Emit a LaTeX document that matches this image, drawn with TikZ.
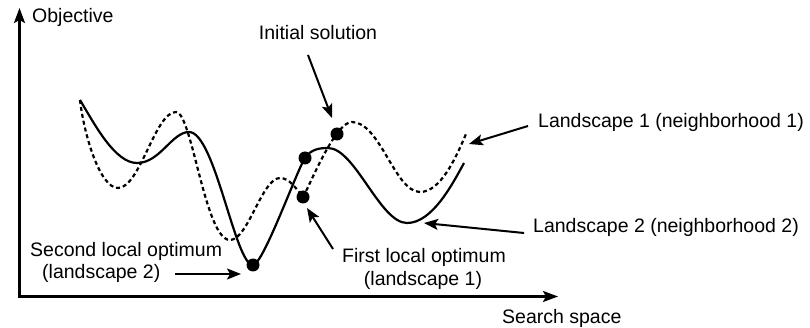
\documentclass[tikz,border=0pt]{standalone}
\usepackage{fontspec}
\setmainfont{Liberation Sans}
\usetikzlibrary{arrows.meta}

\begin{document}
\begin{tikzpicture}[x=1pt,y=-1pt,
  lbl/.style={font=\fontsize{19.5}{23}\selectfont, inner sep=0pt},
  axisline/.style={line width=2.3pt, -{Stealth[length=15pt,width=11pt,inset=3pt]}},
  pointer/.style={line width=2pt, -{Stealth[length=14pt,width=11pt,inset=3pt]}},
  solidcurve/.style={line width=2.2pt},
  dashcurve/.style={line width=2.2pt, dash pattern=on 4pt off 3pt},
  dot/.style={circle, fill=black, inner sep=0pt, minimum size=13pt}]

\useasboundingbox (0,0) rectangle (810,328);

% axes
\coordinate (origin) at (19.5,296.5);
\coordinate (ytop) at (19.5,8);
\coordinate (xend) at (558,296.5);
\draw[axisline] (origin) -- (ytop);
\draw[axisline] ([xshift=-1.15pt]origin) -- (xend);
\node[lbl, anchor=base west] (ylab) at (32,23) {Objective};
\node[lbl, anchor=base west] (xlab) at (502,323) {Search space};

% landscape 1 (neighborhood 1)
\draw[dashcurve] (80,100) .. controls (84,135) and (100,188) .. (118,188)
  .. controls (140,188) and (155,112) .. (176,112)
  .. controls (192,112) and (205,240) .. (230,240)
  .. controls (248,240) and (262,178) .. (280,178)
  .. controls (290,178) and (297,190) .. (303,197)
  .. controls (310,185) and (335,122) .. (352,122)
  .. controls (380,122) and (395,192) .. (420,192)
  .. controls (440,192) and (455,160) .. (466,134);

% landscape 2 (neighborhood 2)
\draw[solidcurve] (80,100) .. controls (95,125) and (115,163) .. (137,163)
  .. controls (160,163) and (172,132) .. (189,132)
  .. controls (215,132) and (235,265) .. (253,265)
  .. controls (263,265) and (297,170) .. (305,158)
  .. controls (311,149) and (320,148) .. (328,148)
  .. controls (355,148) and (380,223) .. (407,223)
  .. controls (432,223) and (452,185) .. (464,163);

% solutions
\node[dot] (init) at (337,134) {};
\node[dot] (jump) at (305,158) {};
\node[dot] (opt1) at (303,197) {};
\node[dot] (opt2) at (253,265) {};

% labels
\node[lbl, anchor=base] (initlab) at (318,40) {Initial solution};
\node[lbl, anchor=base] (opt1lab) at (424,262) {First local optimum};
\node[lbl, anchor=base] (opt1sub) at (423,285) {(landscape 1)};
\node[lbl, anchor=base west] (opt2lab) at (30,257) {Second local optimum};
\node[lbl, anchor=base west] (opt2sub) at (42,279) {(landscape 2)};
\node[lbl, anchor=base west] (l1lab) at (538,128) {Landscape 1 (neighborhood 1)};
\node[lbl, anchor=base west] (l2lab) at (533,233) {Landscape 2 (neighborhood 2)};

% pointers
\coordinate (initfrom) at (308,55);
\coordinate (initto) at (332,118);
\coordinate (opt1from) at (333,249);
\coordinate (opt1to) at (307,208);
\coordinate (opt2from) at (175,274);
\coordinate (opt2to) at (241,274);
\coordinate (l1from) at (528,126);
\coordinate (l1to) at (469,144);
\coordinate (l2from) at (524,233);
\coordinate (l2to) at (424,223);
\draw[pointer] (initfrom) -- (initto);
\draw[pointer] (opt1from) -- (opt1to);
\draw[pointer] (opt2from) -- (opt2to);
\draw[pointer] (l1from) -- (l1to);
\draw[pointer] (l2from) -- (l2to);
\end{tikzpicture}
\end{document}
